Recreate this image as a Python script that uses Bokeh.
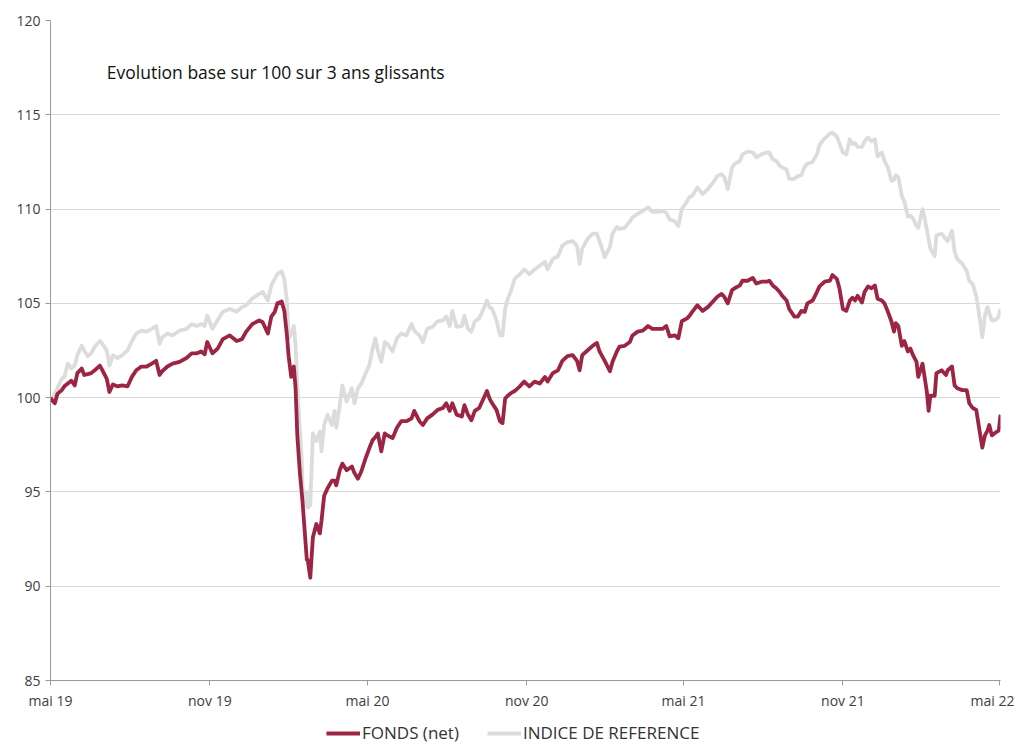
import pandas as pd
from bokeh.plotting import figure
from bokeh.layouts import column
from bokeh.models import (Range1d, FixedTicker, CustomJSTickFormatter, Legend,
                          LegendItem, Label, ColumnDataSource)
from bokeh.embed import file_html
from bokeh.resources import INLINE

# ---------------- data ----------------
dates = [
    "2019-05-01",
    "2019-05-03", "2019-05-06", "2019-05-09", "2019-05-14", "2019-05-17", "2019-05-21", "2019-05-25", "2019-05-29",
    "2019-06-01", "2019-06-06", "2019-06-09", "2019-06-13", "2019-06-17", "2019-06-21", "2019-06-27", "2019-06-30",
    "2019-07-05", "2019-07-08", "2019-07-12", "2019-07-17", "2019-07-23", "2019-07-29", "2019-08-03", "2019-08-08",
    "2019-08-14", "2019-08-20", "2019-08-26", "2019-08-31", "2019-09-04", "2019-09-07", "2019-09-13", "2019-09-19",
    "2019-09-27", "2019-10-05", "2019-10-11", "2019-10-17", "2019-10-22", "2019-10-26", "2019-10-29",
    "2019-11-04", "2019-11-10", "2019-11-16", "2019-11-24", "2019-12-02", "2019-12-08", "2019-12-13", "2019-12-20",
    "2019-12-28", "2020-01-01", "2020-01-07", "2020-01-11", "2020-01-15", "2020-01-18", "2020-01-23", "2020-01-26",
    "2020-01-29", "2020-01-31", "2020-02-03", "2020-02-06", "2020-02-08", "2020-02-10", "2020-02-13", "2020-02-15",
    "2020-02-16", "2020-02-18", "2020-02-21", "2020-02-22", "2020-02-25", "2020-02-28", "2020-03-03", "2020-03-07",
    "2020-03-09", "2020-03-12", "2020-03-16", "2020-03-21", "2020-03-24", "2020-03-26", "2020-03-30", "2020-04-02",
    "2020-04-07", "2020-04-13", "2020-04-16", "2020-04-20", "2020-04-24", "2020-04-29", "2020-05-03",
    "2020-05-07", "2020-05-10", "2020-05-13", "2020-05-17", "2020-05-21", "2020-05-24", "2020-05-30", "2020-06-04",
    "2020-06-09", "2020-06-15", "2020-06-21", "2020-06-24", "2020-06-30", "2020-07-04", "2020-07-09", "2020-07-15",
    "2020-07-21", "2020-07-27", "2020-07-31", "2020-08-04", "2020-08-07", "2020-08-12", "2020-08-18", "2020-08-21",
    "2020-08-25", "2020-08-29", "2020-09-02", "2020-09-07", "2020-09-11", "2020-09-16", "2020-09-19", "2020-09-22",
    "2020-09-27", "2020-10-01", "2020-10-04", "2020-10-07", "2020-10-10", "2020-10-14", "2020-10-18", "2020-10-24",
    "2020-10-29",
    "2020-11-04", "2020-11-10", "2020-11-16", "2020-11-22", "2020-11-25", "2020-12-01", "2020-12-07", "2020-12-12",
    "2020-12-18", "2020-12-24", "2020-12-29", "2021-01-01", "2021-01-04", "2021-01-10", "2021-01-16", "2021-01-21",
    "2021-01-24", "2021-01-30", "2021-02-05", "2021-02-08", "2021-02-13", "2021-02-16", "2021-02-22", "2021-02-28",
    "2021-03-03", "2021-03-09", "2021-03-15", "2021-03-21", "2021-03-26", "2021-04-01", "2021-04-07", "2021-04-11",
    "2021-04-15", "2021-04-21", "2021-04-25", "2021-04-29", "2021-05-05", "2021-05-08",
    "2021-05-11", "2021-05-17", "2021-05-23", "2021-05-29", "2021-06-04", "2021-06-09", "2021-06-14", "2021-06-17",
    "2021-06-21", "2021-06-26", "2021-06-29", "2021-07-05", "2021-07-08", "2021-07-14", "2021-07-20", "2021-07-24",
    "2021-07-30", "2021-08-05", "2021-08-08", "2021-08-12", "2021-08-16", "2021-08-20", "2021-08-23", "2021-08-28",
    "2021-08-31", "2021-09-06", "2021-09-10", "2021-09-14", "2021-09-18", "2021-09-21", "2021-09-27", "2021-10-02",
    "2021-10-05", "2021-10-11", "2021-10-17", "2021-10-20", "2021-10-25", "2021-10-28", "2021-11-01", "2021-11-05",
    "2021-11-09",
    "2021-11-12", "2021-11-15", "2021-11-18", "2021-11-23", "2021-11-26", "2021-11-30", "2021-12-04", "2021-12-08",
    "2021-12-11", "2021-12-16", "2021-12-19", "2021-12-23", "2021-12-27", "2021-12-30", "2022-01-01", "2022-01-04",
    "2022-01-08", "2022-01-11", "2022-01-15", "2022-01-18", "2022-01-21", "2022-01-25", "2022-01-27", "2022-02-01",
    "2022-02-03", "2022-02-06", "2022-02-08", "2022-02-10", "2022-02-15", "2022-02-17", "2022-02-23", "2022-02-28",
    "2022-03-02", "2022-03-07", "2022-03-10", "2022-03-13", "2022-03-19", "2022-03-24", "2022-03-27", "2022-03-31",
    "2022-04-04", "2022-04-08", "2022-04-11", "2022-04-14", "2022-04-17", "2022-04-19", "2022-04-22", "2022-04-25",
    "2022-04-28", "2022-04-30", "2022-05-02",
]

fonds = [
    100.0,
    99.85, 99.7, 100.2, 100.4, 100.6, 100.75, 100.9, 100.65, 101.3, 101.55, 101.2, 101.25, 101.3, 101.45, 101.7,
    101.45, 101.0, 100.3, 100.7, 100.6, 100.65, 100.6, 101.1, 101.45, 101.65, 101.65, 101.8, 101.95, 101.2, 101.4,
    101.65, 101.8, 101.9, 102.1, 102.35, 102.35, 102.45, 102.3, 102.95,
    102.35, 102.6, 103.1, 103.3, 103.0, 103.1, 103.5, 103.9, 104.1, 104.0, 103.4, 104.3, 104.55, 105.0, 105.1,
    104.6, 103.3, 102.2, 101.1, 101.65, 100.5, 98.0, 96.0, 95.0, 94.5, 93.25, 91.4, 91.4, 90.45, 92.6, 93.3,
    92.8, 93.5, 94.8, 95.2, 95.6, 95.6, 95.35, 96.15, 96.5, 96.15, 96.35, 96.0, 95.7, 96.1, 96.8, 97.3,
    97.75, 97.9, 98.1, 97.15, 98.1, 98.0, 97.85, 98.4, 98.75, 98.75, 98.9, 99.3, 98.75, 98.55, 98.9, 99.1,
    99.35, 99.45, 99.7, 99.3, 99.7, 99.1, 99.0, 99.6, 99.1, 98.8, 99.3, 99.45, 99.85, 100.35, 99.95, 99.7,
    99.35, 98.75, 98.65, 99.95, 100.1, 100.25, 100.35, 100.6, 100.85,
    100.6, 100.85, 100.75, 101.1, 100.85, 101.3, 101.45, 101.95, 102.2, 102.25, 101.95, 101.45, 102.25, 102.5,
    102.75, 102.9, 102.45, 101.95, 101.4, 101.9, 102.45, 102.7, 102.75, 102.95, 103.3, 103.5, 103.55, 103.8,
    103.65, 103.65, 103.65, 103.8, 103.25, 103.3, 103.15, 104.05, 104.2, 104.35,
    104.55, 104.9, 104.6, 104.8, 105.1, 105.35, 105.5, 105.35, 105.0, 105.7, 105.8, 105.95, 106.2, 106.2, 106.35,
    106.05, 106.15, 106.15, 106.2, 105.95, 105.8, 105.6, 105.4, 105.15, 104.7, 104.3, 104.3, 104.6, 104.55, 105.0,
    105.15, 105.6, 105.9, 106.15, 106.2, 106.5, 106.3, 105.8, 104.7, 104.6, 105.15,
    105.3, 105.15, 105.4, 105.05, 105.6, 105.9, 105.8, 105.95, 105.25, 105.15, 105.0, 104.55, 104.05, 103.5,
    103.95, 103.8, 102.75, 103.0, 102.45, 102.6, 102.25, 101.9, 101.1, 101.8, 101.2, 100.3, 99.3, 100.1, 100.1,
    101.3, 101.45, 101.2, 101.45, 101.65, 100.65, 100.5, 100.4, 100.4, 99.7, 99.45, 99.35, 98.2, 97.35, 98.0,
    98.25, 98.55, 98.0, 98.1, 98.2, 98.25, 99.1,
]

indice = [
    100.0,
    99.95, 100.2, 100.5, 101.0, 101.1, 101.8, 101.55, 101.7, 102.25, 102.75, 102.5, 102.2, 102.35, 102.7, 103.0,
    102.85, 102.5, 101.7, 102.25, 102.1, 102.25, 102.5, 103.0, 103.4, 103.55, 103.5, 103.65, 103.8, 102.85, 103.2,
    103.4, 103.3, 103.55, 103.65, 103.9, 103.8, 103.9, 103.8, 104.35,
    103.65, 104.1, 104.55, 104.7, 104.55, 104.8, 104.9, 105.25, 105.5, 105.6, 105.15, 105.95, 106.3, 106.55, 106.7,
    106.3, 105.1, 103.15, 103.4, 103.8, 102.75, 100.65, 98.2, 96.8, 95.35, 94.3, 95.0, 94.15, 94.3, 98.1, 97.7,
    98.2, 97.15, 98.55, 99.1, 98.55, 99.3, 98.4, 99.6, 100.65, 99.8, 100.5, 99.7, 100.5, 100.75, 101.3, 101.7,
    102.6, 103.15, 102.5, 101.9, 102.95, 102.85, 102.45, 103.15, 103.4, 103.3, 103.9, 103.55, 103.3, 102.95, 103.65,
    103.75, 104.05, 104.1, 104.3, 103.8, 104.6, 103.75, 103.8, 104.35, 103.65, 103.5, 104.05, 104.2, 104.6, 105.15,
    104.8, 104.7, 104.1, 103.3, 103.3, 104.7, 105.25, 105.7, 106.3, 106.55, 106.8,
    106.55, 106.8, 107.0, 107.2, 106.8, 107.35, 107.5, 108.05, 108.25, 108.3, 108.05, 107.1, 107.9, 108.4, 108.7,
    108.7, 108.3, 107.45, 108.0, 108.7, 109.05, 108.95, 109.0, 109.35, 109.55, 109.75, 109.9, 110.1, 109.85,
    109.85, 109.9, 109.8, 109.45, 109.35, 109.1, 110.0, 110.4, 110.65,
    110.7, 111.15, 110.8, 111.05, 111.4, 111.75, 111.85, 111.7, 111.05, 112.2, 112.4, 112.55, 112.9, 113.05, 113.0,
    112.75, 112.9, 113.0, 113.0, 112.65, 112.55, 112.3, 112.2, 112.1, 111.6, 111.6, 111.75, 111.8, 112.25, 112.4,
    112.5, 112.9, 113.4, 113.75, 114.0, 114.05, 113.85, 113.5, 113.0, 112.9, 113.7,
    113.45, 113.5, 113.3, 113.3, 113.6, 113.8, 113.6, 113.7, 112.8, 113.0, 112.55, 112.2, 111.5, 111.55, 111.8,
    111.7, 110.7, 110.4, 109.6, 109.65, 109.5, 109.1, 109.0, 110.0, 109.6, 108.9, 108.4, 107.9, 107.5, 108.6,
    108.7, 108.4, 108.3, 108.85, 107.75, 107.35, 107.1, 106.7, 106.2, 106.0, 105.4, 104.2, 103.2, 104.35, 104.8,
    104.5, 104.1, 104.1, 104.2, 104.3, 104.7,
]

series_names = ["FONDS (net)", "INDICE DE REFERENCE"]
series_colors = ["#9c2543", "#dcdcdc"]
x_tick_dates = ["2019-05-01", "2019-11-01", "2020-05-01", "2020-11-01",
                "2021-05-01", "2021-11-01", "2022-05-01"]
y_ticks = [85, 90, 95, 100, 105, 110, 115, 120]
title_text = "Evolution base sur 100 sur 3 ans glissants"

# ---------------- main figure ----------------
FONT = "Open Sans"
src = ColumnDataSource(dict(date=pd.to_datetime(dates), fonds=fonds, indice=indice))

x_start = pd.Timestamp("2019-05-01")
x_end = pd.Timestamp("2022-05-02")

p = figure(width=1014, height=712, x_axis_type="datetime",
           x_range=Range1d(x_start, x_end), y_range=Range1d(85, 120),
           output_backend="svg", toolbar_location=None,
           min_border_left=50, min_border_right=14, min_border_top=20, min_border_bottom=30)
p.outline_line_color = None
p.background_fill_color = "white"

r_ind = p.line("date", "indice", source=src, line_color=series_colors[1], line_width=3.8,
               line_join="round")
r_fon = p.line("date", "fonds", source=src, line_color=series_colors[0], line_width=3.8,
               line_join="round")

p.xaxis.ticker = FixedTicker(ticks=[pd.Timestamp(d).value // 10**6 for d in x_tick_dates])
p.xaxis.formatter = CustomJSTickFormatter(code="""
const m = ['janv','févr','mars','avr','mai','juin','juil','août','sept','oct','nov','déc'];
const d = new Date(tick);
return m[d.getUTCMonth()] + ' ' + String(d.getUTCFullYear()).slice(2);
""")
p.yaxis.ticker = FixedTicker(ticks=y_ticks)

for ax in (p.xaxis[0], p.yaxis[0]):
    ax.axis_line_color = "#9a9a9a"
    ax.axis_line_width = 1
    ax.major_tick_line_color = "#9a9a9a"
    ax.major_tick_out = 5
    ax.major_tick_in = 0
    ax.minor_tick_out = 0
    ax.minor_tick_in = 0
    ax.major_label_text_font = FONT
    ax.major_label_text_font_size = "14px"
    ax.major_label_text_color = "#404040"
p.xaxis.major_label_standoff = 5
p.yaxis.major_label_standoff = 5

p.xgrid.grid_line_color = None
p.ygrid.ticker = FixedTicker(ticks=y_ticks)
p.ygrid.grid_line_color = "#d9d9d9"
p.ygrid.grid_line_width = 1

lbl = Label(x=pd.Timestamp("2019-07-05").value // 10**6, y=117.25, text=title_text,
            text_font=FONT, text_font_size="17.5px", text_color="#111111",
            text_baseline="middle", text_align="left")
p.add_layout(lbl)

# ---------------- legend strip ----------------
q = figure(width=1014, height=32, x_range=Range1d(0, 1), y_range=Range1d(0, 1),
           output_backend="svg", toolbar_location=None,
           x_axis_location=None, y_axis_location=None, min_border=0)
q.outline_line_color = None
q.xgrid.grid_line_color = None
q.ygrid.grid_line_color = None
# same series, drawn far outside this strip's ranges: only their legend samples show
l_fon = q.line("date", "fonds", source=src, line_color=series_colors[0], line_width=3.8)
l_ind = q.line("date", "indice", source=src, line_color=series_colors[1], line_width=3.8)

legend = Legend(items=[LegendItem(label=series_names[0], renderers=[l_fon]),
                       LegendItem(label=series_names[1], renderers=[l_ind])],
                orientation="horizontal", location=(276, 0),
                label_text_font=FONT, label_text_font_size="17px", label_text_color="#333333",
                glyph_width=34, glyph_height=8, label_height=8, label_standoff=2, spacing=28,
                padding=0, margin=0, border_line_color=None, background_fill_alpha=0)
q.add_layout(legend, "center")

open("out.html", "w").write(file_html(column(p, q, spacing=0), INLINE))
